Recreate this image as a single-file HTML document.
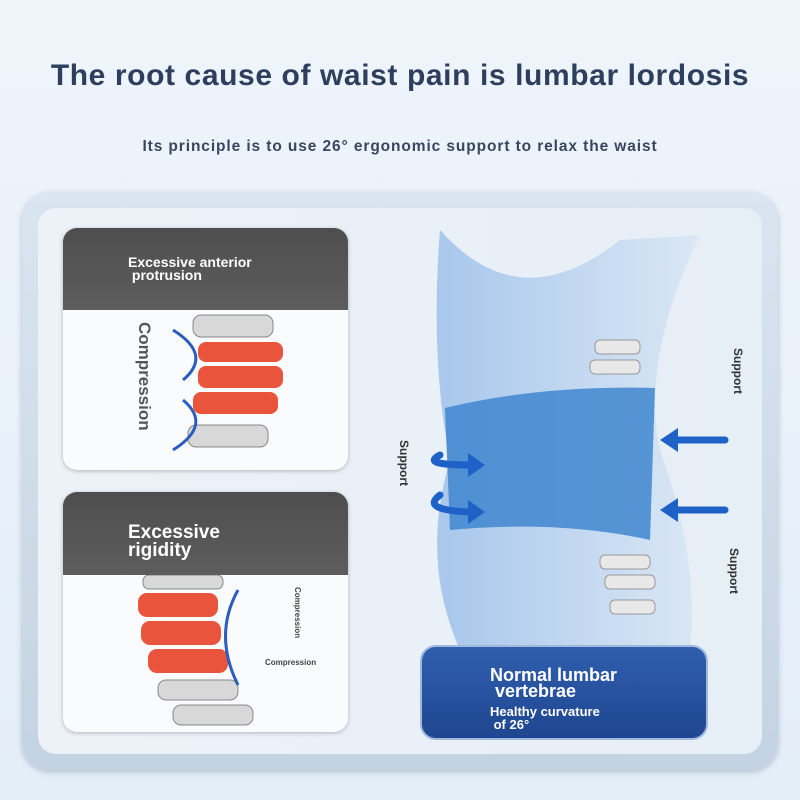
<!DOCTYPE html>
<html><head><meta charset="utf-8"><style>
*{margin:0;padding:0;box-sizing:border-box}
body{width:800px;height:800px;overflow:hidden;background:linear-gradient(#eef4fa,#e4eef8);font-family:"Liberation Sans",Arial,sans-serif;position:relative}
.t{position:absolute;left:0;width:800px;text-align:center;font-weight:bold;color:#2e3f5e}
.panel{position:absolute;left:22px;top:192px;width:756px;height:578px;border-radius:28px;background:linear-gradient(#d9e5f1,#c4d3e3);box-shadow:0 2px 6px rgba(80,100,130,.35)}
.inner{position:absolute;left:38px;top:208px;width:724px;height:546px;border-radius:18px;background:linear-gradient(90deg,#edf2f8,#e6eef6)}
.card{position:absolute;left:63px;width:285px;border-radius:14px;background:#fafbfc;overflow:hidden;box-shadow:0 1px 4px rgba(0,0,0,.25)}
.hd{background:linear-gradient(#4e4e4e,#5d5d5d);color:#fff;font-weight:bold;position:relative}
.btn{position:absolute;left:420px;top:645px;width:288px;height:95px;border-radius:16px;background:linear-gradient(#2f5fae,#1f4690);border:2px solid #9fb8dc;color:#fff;font-weight:bold}
</style></head><body>
<div class="t" style="top:59px;font-size:30px;letter-spacing:0.6px">The root cause of waist pain is lumbar lordosis</div>
<div class="t" style="top:138px;font-size:15.5px;letter-spacing:0.9px;color:#3a4660">Its principle is to use 26° ergonomic support to relax the waist</div>
<div class="panel"></div>
<div class="inner"></div>

<div class="card" style="top:228px;height:242px">
 <div class="hd" style="height:82px"><div style="position:absolute;left:65px;top:28px;font-size:14px;line-height:13px">Excessive anterior<br>&nbsp;protrusion</div></div>
 <svg width="285" height="160" style="position:absolute;top:82px;left:0">
  <g fill="#d8d8d8" stroke="#888" stroke-width="1">
   <rect x="130" y="5" width="80" height="22" rx="8"/><rect x="125" y="115" width="80" height="22" rx="8"/>
  </g>
  <g fill="#e8553c"><rect x="135" y="32" width="85" height="20" rx="8"/><rect x="135" y="56" width="85" height="22" rx="8"/><rect x="130" y="82" width="85" height="22" rx="8"/></g>
  <path d="M110 20 Q150 45 120 70" stroke="#2b5cc0" stroke-width="3" fill="none"/>
  <path d="M110 140 Q150 115 120 90" stroke="#2b5cc0" stroke-width="3" fill="none"/>
  <text transform="translate(76,12) rotate(90)" font-size="17" font-weight="bold" fill="#555" font-family="Liberation Sans">Compression</text>
 </svg>
</div>

<div class="card" style="top:492px;height:240px">
 <div class="hd" style="height:83px"><div style="position:absolute;left:65px;top:32px;font-size:19px;line-height:18px">Excessive<br>rigidity</div></div>
 <svg width="285" height="157" style="position:absolute;top:83px;left:0">
  <g fill="#e8553c"><rect x="75" y="18" width="80" height="24" rx="9"/><rect x="78" y="46" width="80" height="24" rx="9"/><rect x="85" y="74" width="80" height="24" rx="9"/></g>
  <g fill="#d8d8d8" stroke="#888"><rect x="95" y="105" width="80" height="20" rx="8"/><rect x="110" y="130" width="80" height="20" rx="8"/><rect x="80" y="0" width="80" height="14" rx="6"/></g>
  <path d="M175 15 Q150 60 175 110" stroke="#2b5cc0" stroke-width="3" fill="none"/>
  <text transform="translate(232,12) rotate(90)" font-size="8" font-weight="bold" fill="#444" font-family="Liberation Sans">Compression</text>
  <text x="202" y="90" font-size="8" font-weight="bold" fill="#444" font-family="Liberation Sans">Compression</text>
 </svg>
</div>

<svg width="800" height="800" style="position:absolute;left:0;top:0">
 <defs><linearGradient id="b" x1="0" x2="1"><stop offset="0" stop-color="#9cc0ea"/><stop offset="1" stop-color="#d8e6f4"/></linearGradient></defs>
 <path d="M440 230 Q520 320 620 240 L700 235 Q640 360 660 450 Q700 560 690 650 L460 650 Q420 560 450 460 Q430 360 440 230Z" fill="url(#b)" opacity=".85"/>
 <g fill="#e8e8e8" stroke="#999"><rect x="595" y="340" width="45" height="14" rx="5"/><rect x="590" y="360" width="50" height="14" rx="5"/><rect x="600" y="555" width="50" height="14" rx="5"/><rect x="605" y="575" width="50" height="14" rx="5"/><rect x="610" y="600" width="45" height="14" rx="5"/></g>
 <path d="M445 408 Q540 385 655 388 L650 540 Q560 520 450 530 Z" fill="#3f86cf" opacity=".85"/>
 <g stroke="#1e62c8" stroke-width="7" fill="none" stroke-linecap="round">
  <path d="M725 440 L672 440"/><path d="M725 510 L672 510"/>
  <path d="M440 455 Q420 465 470 465"/><path d="M440 495 Q420 510 470 512"/>
 </g>
 <g fill="#1e62c8"><path d="M660 440 L678 428 L678 452Z"/><path d="M660 510 L678 498 L678 522Z"/><path d="M485 465 L468 453 L468 477Z"/><path d="M485 512 L468 500 L468 524Z"/></g>
 <g font-family="Liberation Sans" font-weight="bold" font-size="12" fill="#333">
  <text transform="translate(734,348) rotate(90)">Support</text>
  <text transform="translate(400,440) rotate(90)">Support</text>
  <text transform="translate(730,548) rotate(90)">Support</text>
 </g>
</svg>

<div class="btn">
 <div style="position:absolute;left:68px;top:20px;font-size:18px;line-height:16px">Normal lumbar<br>&nbsp;vertebrae</div>
 <div style="position:absolute;left:68px;top:58px;font-size:13px;line-height:13px">Healthy curvature<br>&nbsp;of 26°</div>
</div>
</body></html>
